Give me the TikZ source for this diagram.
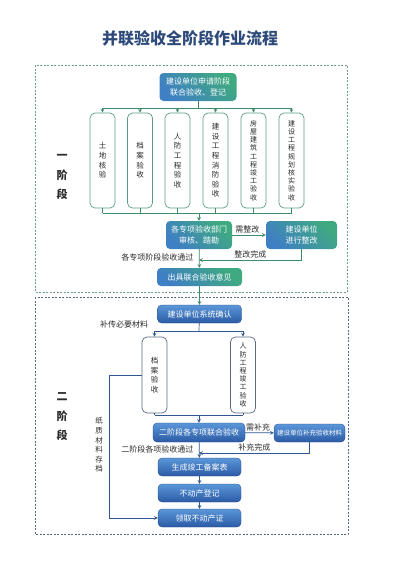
\documentclass[tikz,border=0pt]{standalone}
\usepackage{fontspec}
\setmainfont{Noto Sans CJK SC}
\usetikzlibrary{positioning}
\usetikzlibrary{arrows}

\definecolor{gtop}{HTML}{3FAA80}
\definecolor{gbot}{HTML}{3F7FC4}
\definecolor{btop}{HTML}{5B96D8}
\definecolor{bbot}{HTML}{2B5BA6}
\definecolor{gline}{HTML}{3D8C6A}
\definecolor{bline}{HTML}{30578F}
\definecolor{gframe}{HTML}{6A9F8A}
\definecolor{bframe}{HTML}{5A6A85}
\definecolor{titleblue}{HTML}{2D4A7A}
\definecolor{txt}{HTML}{2A2A2A}

\tikzset{
  gstep/.style={rounded corners=4pt, top color=gtop, bottom color=gbot, shading angle=-45,
    text=white, font=\fontsize{8}{11.5}\selectfont, align=center, inner sep=0pt},
  bstep/.style={rounded corners=4pt, top color=btop, bottom color=bbot, draw=bbot!80!black, line width=.3pt,
    text=white, font=\fontsize{8}{10}\selectfont, align=center, inner sep=0pt,
    minimum width=84pt, minimum height=18pt},
  gcol/.style={draw=gline!85, line width=.7pt, rounded corners=5pt, fill=white, text=txt,
    minimum width=25pt, minimum height=95pt, align=center, inner sep=0pt},
  bcol/.style={draw=bframe, line width=.7pt, rounded corners=5pt, fill=white, text=txt,
    minimum width=25pt, minimum height=76pt, align=center, inner sep=0pt},
  glink/.style={draw=gline, line width=.7pt},
  blink/.style={draw=bline, line width=.7pt},
  lbl/.style={text=txt, font=\fontsize{8}{9}\selectfont, inner sep=1.5pt},
  tall/.style={font=\fontsize{7.5}{9.6}\selectfont},
  taller/.style={font=\fontsize{7}{8.2}\selectfont}
}

\begin{document}
\begin{tikzpicture}[x=1pt, y=-1pt, >=stealth]
\useasboundingbox (0,0) rectangle (400,565);

% title
\node[text=titleblue, font=\fontsize{16}{16}\selectfont\bfseries] (title) at (190,38) {并联验收全阶段作业流程};

% frames
\draw[gframe, dashed, dash pattern=on 2pt off 1.5pt, line width=.7pt] (35,65) rectangle (347,292);
\draw[bframe, dashed, dash pattern=on 2pt off 1.5pt, line width=.7pt] (35,297) rectangle (348,534);

\node[text=txt, font=\fontsize{11}{19.5}\selectfont\bfseries, align=center] (stage1) at (62,177) {一\\阶\\段};
\node[text=txt, font=\fontsize{11}{19.5}\selectfont\bfseries, align=center] (stage2) at (62,417) {二\\阶\\段};

% stage one
\node[gstep, minimum width=77pt, minimum height=28pt] (apply) at (198,87) {建设单位申请阶段\\联合验收、登记};

\node[gcol, tall] (land) at (102.5,160.5) {土\\地\\核\\验};
\node[gcol, tall] (archive) at (140,160.5) {档\\案\\验\\收};
\node[gcol, tall] (civil) at (177.5,160.5) {人\\防\\工\\程\\验\\收};
\node[gcol, tall] (fire) at (215.5,160.5) {建\\设\\工\\程\\消\\防\\验\\收};
\node[gcol, taller] (house) at (253.5,160.5) {房\\屋\\建\\筑\\工\\程\\竣\\工\\验\\收};
\node[gcol, taller] (plan) at (291.5,160.5) {建\\设\\工\\程\\规\\划\\核\\实\\验\\收};

\node[gstep, minimum width=66pt, minimum height=28pt] (review) at (199,235) {各专项验收部门\\审核、踏勘};
\node[gstep, minimum width=71pt, minimum height=28pt] (rectify) at (301.5,235) {建设单位\\进行整改};
\node[gstep, minimum width=85pt, minimum height=18pt] (opinion) at (199.5,277) {出具联合验收意见};

\coordinate (bus1) at (198,108);
\coordinate (bus2) at (199,213);
\coordinate (back1) at (199,260);

\draw[glink] (apply) -- (bus1);
\draw[glink] (land |- bus1) -- (plan |- bus1);
\draw[glink] (land |- bus2) -- (plan |- bus2);
\foreach \n in {land,archive,civil,fire,house,plan} {
  \draw[glink, ->] (\n |- bus1) -- (\n.north);
  \draw[glink] (\n.south) -- (\n |- bus2);
}
\draw[glink, ->] (bus2) -- (review);
\draw[glink, ->] (review) -- node[lbl, above, pos=.45] {需整改} (rectify);
\draw[glink, ->] (rectify.south) |- node[lbl, above, pos=.75] {整改完成} (back1);
\draw[glink, ->] (review) -- node[lbl, left, pos=.45, xshift=-4pt] {各专项阶段验收通过} (opinion);

% stage two
\node[bstep] (confirm) at (199.5,314) {建设单位系统确认};

\node[bcol, tall] (arch2) at (154.5,375) {档\\案\\验\\收};
\node[bcol, taller] (civil2) at (243,375) {人\\防\\工\\程\\竣\\工\\验\\收};

\node[bstep, minimum width=92pt, minimum height=19pt] (joint) at (199,432.5) {二阶段各专项联合验收};
\node[bstep, minimum width=71pt, minimum height=18pt, font=\fontsize{6.5}{8}\selectfont] (supply) at (309.5,433) {建设单位补充验收材料};
\node[bstep, minimum width=83pt] (record) at (199.5,467) {生成竣工备案表};
\node[bstep, minimum width=83pt] (register) at (199.5,493) {不动产登记};
\node[bstep, minimum width=83pt] (cert) at (199.5,518) {领取不动产证};

\coordinate (bus3) at (199,331);
\coordinate (bus4) at (199,415);
\coordinate (back2) at (199,453);
\coordinate (paper) at (109,375);

\draw[glink, ->] (opinion) -- (confirm);
\draw[blink] (confirm) -- (bus3);
\draw[blink] (arch2 |- bus3) -- (civil2 |- bus3);
\draw[blink] (arch2 |- bus4) -- (civil2 |- bus4);
\foreach \n in {arch2,civil2} {
  \draw[blink, ->] (\n |- bus3) -- (\n.north);
  \draw[blink] (\n.south) -- (\n |- bus4);
}
\node[lbl] (resend) at (124,324) {补传必要材料};
\draw[blink, ->] (bus4) -- (joint);
\draw[blink, ->] (joint) -- node[lbl, above, pos=.45] {需补充} (supply);
\draw[blink, ->] (supply.south) |- node[lbl, above, pos=.75] {补充完成} (back2);
\draw[blink, ->] (joint) -- node[lbl, left, pos=.45, xshift=-4pt] {二阶段各项验收通过} (record);
\draw[blink, ->] (record) -- (register);
\draw[blink, ->] (register) -- (cert);
\draw[blink, ->] (arch2.west) -- (paper) |- (cert.west);
\node[text=txt, font=\fontsize{7.5}{9.6}\selectfont, align=center] (archnote) at (99,445) {纸\\质\\材\\料\\存\\档};
\end{tikzpicture}
\end{document}
